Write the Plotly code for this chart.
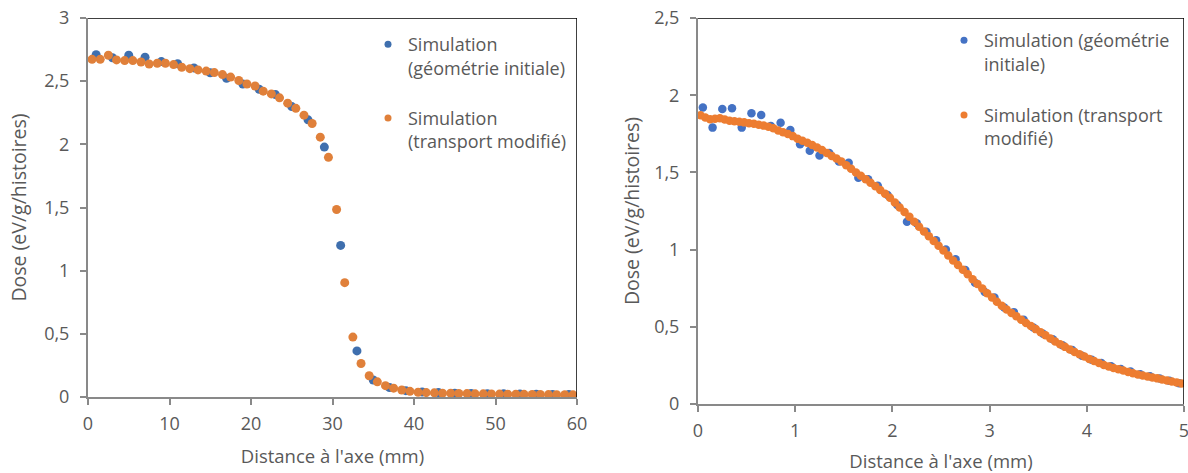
import plotly.graph_objects as go

# ---------------- Left chart data (0-60 mm) ----------------
left_x_init = [1, 3, 5, 7, 9, 11, 13, 15, 17, 19, 21, 23, 25, 27, 29,
               31, 33, 35, 37, 39, 41, 43, 45, 47, 49, 51, 53, 55, 57, 59]
left_dose_init = [2.71, 2.685, 2.705, 2.689, 2.655, 2.638, 2.605, 2.567, 2.523, 2.478,
                  2.436, 2.394, 2.299, 2.194, 1.978, 1.20, 0.365, 0.135, 0.075, 0.05,
                  0.04, 0.035, 0.03, 0.028, 0.026, 0.025, 0.023, 0.022, 0.02, 0.02]

left_x_mod = [0.5, 1.5, 2.5, 3.5, 4.5, 5.5, 6.5, 7.5, 8.5, 9.5,
              10.5, 11.5, 12.5, 13.5, 14.5, 15.5, 16.5, 17.5, 18.5, 19.5,
              20.5, 21.5, 22.5, 23.5, 24.5, 25.5, 26.5, 27.5, 28.5, 29.5,
              30.5, 31.5, 32.5, 33.5, 34.5, 35.5, 36.5, 37.5, 38.5, 39.5,
              40.5, 41.5, 42.5, 43.5, 44.5, 45.5, 46.5, 47.5, 48.5, 49.5,
              50.5, 51.5, 52.5, 53.5, 54.5, 55.5, 56.5, 57.5, 58.5, 59.5]
left_dose_mod = [2.673, 2.673, 2.705, 2.668, 2.663, 2.663, 2.652, 2.636, 2.642, 2.642,
                 2.631, 2.610, 2.599, 2.589, 2.58, 2.568, 2.552, 2.532, 2.505, 2.478,
                 2.462, 2.421, 2.399, 2.368, 2.326, 2.285, 2.231, 2.165, 2.057, 1.897,
                 1.484, 0.905, 0.474, 0.265, 0.168, 0.12, 0.09, 0.07, 0.055, 0.045,
                 0.038, 0.035, 0.033, 0.03, 0.03, 0.028, 0.027, 0.025, 0.025, 0.024,
                 0.023, 0.022, 0.022, 0.021, 0.02, 0.02, 0.019, 0.018, 0.018, 0.017]

# ---------------- Right chart data (0-5 mm) ----------------
right_x_init = [0.05, 0.15, 0.25, 0.35, 0.45, 0.55, 0.65, 0.75, 0.85, 0.95,
                1.05, 1.15, 1.25, 1.35, 1.45, 1.55, 1.65, 1.75, 1.85, 1.95,
                2.05, 2.15, 2.25, 2.35, 2.45, 2.55, 2.65, 2.75, 2.85, 2.95,
                3.05, 3.15, 3.25, 3.35, 3.45, 3.55, 3.65, 3.75, 3.85, 3.95,
                4.05, 4.15, 4.25, 4.35, 4.45, 4.55, 4.65, 4.75, 4.85, 4.95]
right_dose_init = [1.92, 1.79, 1.91, 1.915, 1.79, 1.883, 1.872, 1.80, 1.822, 1.775,
                   1.682, 1.64, 1.61, 1.625, 1.57, 1.563, 1.466, 1.455, 1.414, 1.354,
                   1.289, 1.18, 1.17, 1.115, 1.06, 1.0, 0.938, 0.868, 0.785, 0.725,
                   0.69, 0.625, 0.595, 0.545, 0.495, 0.455, 0.42, 0.38, 0.35, 0.312,
                   0.287, 0.265, 0.245, 0.226, 0.21, 0.192, 0.18, 0.165, 0.15, 0.135]

right_x_mod = [0.025, 0.075, 0.125, 0.175, 0.225, 0.275, 0.325, 0.375, 0.425, 0.475,
               0.525, 0.575, 0.625, 0.675, 0.725, 0.775, 0.825, 0.875, 0.925, 0.975,
               1.025, 1.075, 1.125, 1.175, 1.225, 1.275, 1.325, 1.375, 1.425, 1.475,
               1.525, 1.575, 1.625, 1.675, 1.725, 1.775, 1.825, 1.875, 1.925, 1.975,
               2.025, 2.075, 2.125, 2.175, 2.225, 2.275, 2.325, 2.375, 2.425, 2.475,
               2.525, 2.575, 2.625, 2.675, 2.725, 2.775, 2.825, 2.875, 2.925, 2.975,
               3.025, 3.075, 3.125, 3.175, 3.225, 3.275, 3.325, 3.375, 3.425, 3.475,
               3.525, 3.575, 3.625, 3.675, 3.725, 3.775, 3.825, 3.875, 3.925, 3.975,
               4.025, 4.075, 4.125, 4.175, 4.225, 4.275, 4.325, 4.375, 4.425, 4.475,
               4.525, 4.575, 4.625, 4.675, 4.725, 4.775, 4.825, 4.875, 4.925, 4.975]
right_dose_mod = [1.87, 1.855, 1.845, 1.848, 1.85, 1.843, 1.835, 1.832, 1.828, 1.824,
                  1.819, 1.815, 1.809, 1.803, 1.795, 1.786, 1.772, 1.76, 1.748, 1.735,
                  1.718, 1.705, 1.692, 1.677, 1.662, 1.645, 1.626, 1.607, 1.59, 1.57,
                  1.547, 1.523, 1.5, 1.478, 1.456, 1.433, 1.41, 1.386, 1.362, 1.336,
                  1.305, 1.273, 1.243, 1.213, 1.18, 1.148, 1.117, 1.086, 1.055, 1.025,
                  0.994, 0.962, 0.93, 0.9, 0.87, 0.84, 0.808, 0.778, 0.748, 0.718,
                  0.69, 0.662, 0.637, 0.612, 0.59, 0.568, 0.546, 0.525, 0.505, 0.485,
                  0.465, 0.445, 0.425, 0.405, 0.387, 0.37, 0.353, 0.337, 0.322, 0.307,
                  0.292, 0.278, 0.265, 0.253, 0.243, 0.233, 0.225, 0.217, 0.208, 0.199,
                  0.191, 0.184, 0.178, 0.172, 0.166, 0.159, 0.152, 0.146, 0.14, 0.133]

left_legend = ["Simulation<br>(géométrie initiale)", "Simulation<br>(transport modifié)"]
right_legend = ["Simulation (géométrie<br>initiale)", "Simulation (transport<br>modifié)"]
x_title = "Distance à l'axe (mm)"
y_title = "Dose (eV/g/histoires)"

BLUE_L, ORANGE_L = "#3F6FAE", "#E0803A"
BLUE_R, ORANGE_R = "#4472C4", "#ED7D31"
FONT = "Open Sans"
TXT = "#595959"
AXC = "#898989"

W, H = 1188, 473
fig = go.Figure()

# left
fig.add_trace(go.Scatter(x=left_x_init, y=left_dose_init, mode="markers", xaxis="x", yaxis="y",
                         marker=dict(color=BLUE_L, size=9), showlegend=False, hoverinfo="x+y"))
fig.add_trace(go.Scatter(x=left_x_mod, y=left_dose_mod, mode="markers", xaxis="x", yaxis="y",
                         marker=dict(color=ORANGE_L, size=9), showlegend=False, hoverinfo="x+y"))
# right
fig.add_trace(go.Scatter(x=right_x_init, y=right_dose_init, mode="markers", xaxis="x2", yaxis="y2",
                         marker=dict(color=BLUE_R, size=8.5), showlegend=False, hoverinfo="x+y"))
fig.add_trace(go.Scatter(x=right_x_mod, y=right_dose_mod, mode="markers", xaxis="x2", yaxis="y2",
                         marker=dict(color=ORANGE_R, size=8.5), showlegend=False, hoverinfo="x+y"))

# legend entries
for name, col, grp in [(left_legend[0], BLUE_L, "a"), (left_legend[1], ORANGE_L, "b")]:
    fig.add_trace(go.Scatter(x=[None], y=[None], mode="markers", name=name, legend="legend",
                             legendgroup="L" + grp, marker=dict(color=col, size=7), xaxis="x", yaxis="y"))
for name, col, grp in [(right_legend[0], BLUE_R, "a"), (right_legend[1], ORANGE_R, "b")]:
    fig.add_trace(go.Scatter(x=[None], y=[None], mode="markers", name=name, legend="legend2",
                             legendgroup="R" + grp, marker=dict(color=col, size=7), xaxis="x2", yaxis="y2"))

def px_x(p):
    return p / W

def px_y(p):
    return 1 - p / H

tickfont = dict(family=FONT, size=18, color=TXT)
xtitlefont = dict(family=FONT, size=18.5, color=TXT)
ytitlefont = dict(family=FONT, size=19.5, color=TXT)

common_x = dict(showgrid=False, zeroline=False, showline=True, linecolor=AXC, linewidth=2,
                ticks="outside", ticklen=6, tickcolor=AXC, tickwidth=1.5, tickfont=tickfont,
                ticklabelstandoff=3, ticklabeloverflow="allow", automargin=False)
common_y = dict(showgrid=False, zeroline=False, showline=True, linecolor=AXC, linewidth=2,
                ticks="outside", ticklen=6, tickcolor=AXC, tickwidth=1.5, tickfont=tickfont,
                ticklabelstandoff=7, automargin=False)

fig.update_layout(
    width=W, height=H,
    margin=dict(l=0, r=0, t=0, b=0),
    paper_bgcolor="white", plot_bgcolor="white",
    separators=", ",
    font=dict(family=FONT, color=TXT),
    xaxis=dict(domain=[px_x(88), px_x(577)], range=[0, 60], dtick=10, anchor="y",
               title=dict(text=x_title, font=xtitlefont, standoff=16), **common_x),
    yaxis=dict(domain=[px_y(397), px_y(18)], range=[0, 3], dtick=0.5, anchor="x",
               title=dict(text=y_title, font=ytitlefont, standoff=12), **common_y),
    xaxis2=dict(domain=[px_x(698), px_x(1184)], range=[0, 5], dtick=1, anchor="y2",
                title=dict(text=x_title, font=xtitlefont, standoff=16), **common_x),
    yaxis2=dict(domain=[px_y(404), px_y(18)], range=[0, 2.5], dtick=0.5, anchor="x2",
                title=dict(text=y_title, font=ytitlefont, standoff=9), **common_y),
    legend=dict(x=px_x(368), y=px_y(26), xanchor="left", yanchor="top", bgcolor="rgba(0,0,0,0)",
                font=dict(family=FONT, size=18, color=TXT), valign="top",
                traceorder="grouped", tracegroupgap=24, itemclick=False),
    legend2=dict(x=px_x(944), y=px_y(22), xanchor="left", yanchor="top", bgcolor="rgba(0,0,0,0)",
                 font=dict(family=FONT, size=18, color=TXT), valign="top",
                 traceorder="grouped", tracegroupgap=25, itemclick=False),
    shapes=[
        dict(type="line", xref="x", yref="y", x0=0, x1=60, y0=3, y1=3, line=dict(color="black", width=1.5)),
        dict(type="line", xref="x", yref="y", x0=60, x1=60, y0=0, y1=3, line=dict(color="black", width=1.5)),
        dict(type="line", xref="x2", yref="y2", x0=0, x1=5, y0=2.5, y1=2.5, line=dict(color="black", width=1.5)),
        dict(type="line", xref="x2", yref="y2", x0=5, x1=5, y0=0, y1=2.5, line=dict(color="black", width=1.5)),
    ],
)

fig.write_html("out.html", config={"displayModeBar": False},
               post_script="document.body.style.margin='0';document.body.style.padding='0';"
                           "document.body.style.overflow='hidden';")
